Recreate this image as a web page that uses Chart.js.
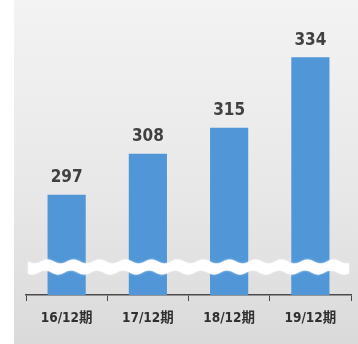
<!DOCTYPE html>
<html>
<head>
<meta charset="utf-8">
<script src="https://cdn.jsdelivr.net/npm/chart.js@4.4.1/dist/chart.umd.min.js"></script>
<style>
  html, body { margin: 0; padding: 0; background: #fff; }
  #wrap { position: relative; width: 358px; height: 344px; }
  #panel {
    position: absolute; left: 14px; top: 0; width: 344px; height: 344px;
    background: linear-gradient(to bottom, #f3f3f3 0%, #e8e8e8 55%, #dadada 100%);
  }
  canvas { position: absolute; left: 0; top: 0; }
</style>
</head>
<body>
<div id="wrap">
  <div id="panel"></div>
  <canvas id="chart" width="358" height="344"></canvas>
</div>
<script>
// 期別の数値
const periods = ["16/12期", "17/12期", "18/12期", "19/12期"];
const values = [297, 308, 315, 334];

// 縦軸は途中を省略して表示する
const axisMin = 270;
const axisMax = 344;

const labelFont = "'DejaVu Sans Condensed', 'DejaVu Sans', 'Noto Sans CJK JP', sans-serif";

// 棒の上に数値を描く
const valueLabels = {
  id: "valueLabels",
  afterDatasetsDraw(chart) {
    const ctx = chart.ctx;
    const meta = chart.getDatasetMeta(0);
    ctx.save();
    ctx.font = "bold 17px " + labelFont;
    ctx.fillStyle = "#414141";
    ctx.textAlign = "center";
    ctx.textBaseline = "middle";
    meta.data.forEach((bar, i) => {
      ctx.fillText(String(values[i]), bar.x, bar.y - 17);
    });
    ctx.restore();
  },
};

// 省略を示す白い波線
const breakMark = {
  id: "breakMark",
  afterDatasetsDraw(chart) {
    const ctx = chart.ctx;
    const area = chart.chartArea;
    const left = area.left + 2;
    const right = area.right - 2;
    const mid = area.bottom - 28;
    const half = 5.5;
    const amp = 2;
    const period = 26;
    ctx.save();
    ctx.fillStyle = "#fff";
    ctx.beginPath();
    for (let x = left; x <= right; x++) {
      const y = mid - half + amp * Math.sin(((x - left) / period) * Math.PI * 2);
      if (x === left) ctx.moveTo(x, y);
      else ctx.lineTo(x, y);
    }
    for (let x = right; x >= left; x--) {
      const y = mid + half + amp * Math.sin(((x - left) / period) * Math.PI * 2 + 0.6);
      ctx.lineTo(x, y);
    }
    ctx.closePath();
    ctx.shadowColor = "rgba(255,255,255,0.8)";
    ctx.shadowBlur = 2;
    ctx.fill();
    ctx.restore();
  },
};

new Chart(document.getElementById("chart"), {
  type: "bar",
  data: {
    labels: periods,
    datasets: [
      {
        data: values,
        backgroundColor: "#5197d7",
        borderWidth: 0,
        categoryPercentage: 1,
        barPercentage: 0.47,
      },
    ],
  },
  options: {
    responsive: false,
    animation: false,
    events: [],
    layout: { padding: { left: 26, right: 7, top: 20, bottom: 0 } },
    plugins: { legend: { display: false }, tooltip: { enabled: false } },
    scales: {
      x: {
        grid: {
          drawOnChartArea: false,
          drawTicks: true,
          tickLength: 6,
          color: "#4a4a4a",
          offset: true,
        },
        border: { display: true, color: "#4a4a4a", width: 1.5 },
        ticks: {
          padding: 9,
          color: "#303030",
          font: { family: labelFont, size: 13.5, weight: "bold" },
        },
        afterFit(scale) {
          scale.height = 49;
        },
      },
      y: {
        display: false,
        min: axisMin,
        max: axisMax,
      },
    },
  },
  plugins: [valueLabels, breakMark],
});
</script>
</body>
</html>
